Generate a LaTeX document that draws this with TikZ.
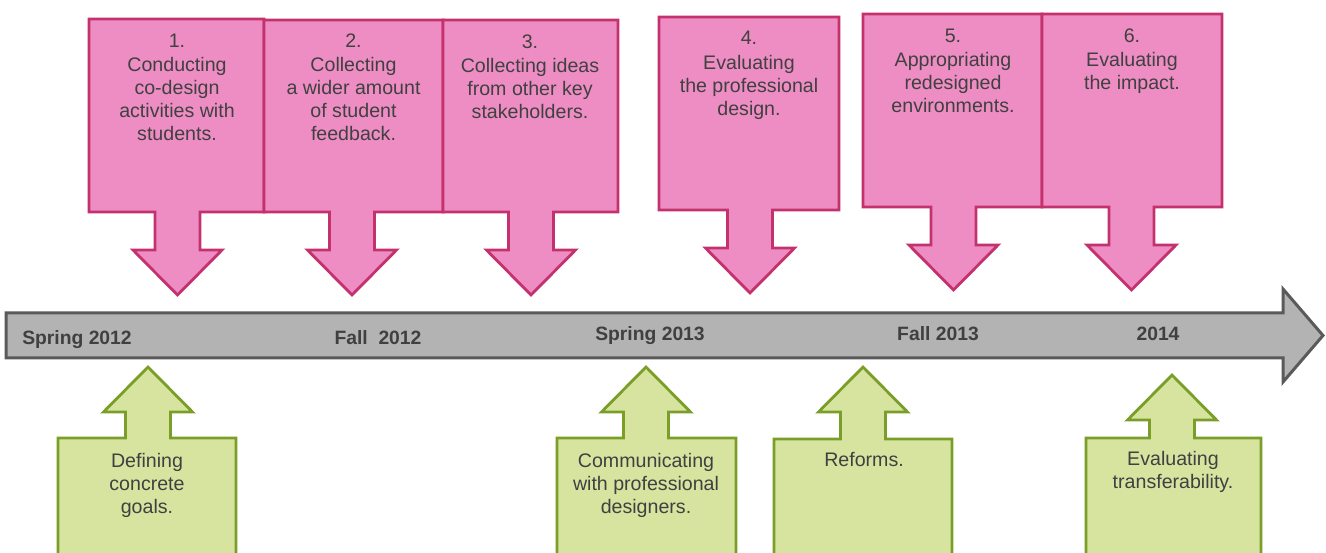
\documentclass[tikz,border=0pt]{standalone}
\usepackage{fontspec}
\setmainfont{Liberation Sans}
\definecolor{pinkfill}{RGB}{238,141,196}
\definecolor{pinkdraw}{RGB}{196,50,110}
\definecolor{greenfill}{RGB}{214,228,160}
\definecolor{greendraw}{RGB}{122,158,40}
\definecolor{barfill}{RGB}{179,179,179}
\definecolor{bardraw}{RGB}{90,90,90}
\definecolor{textgray}{RGB}{64,64,64}
\tikzset{
  pinkbox/.style={fill=pinkfill, draw=pinkdraw, line width=2.8pt, line join=miter},
  greenbox/.style={fill=greenfill, draw=greendraw, line width=2.8pt, line join=miter},
  timebar/.style={fill=barfill, draw=bardraw, line width=3pt, line join=miter, miter limit=10},
  calltext/.style={align=center, inner sep=0pt, anchor=north, text=textgray, font=\fontsize{19.6}{23}\selectfont},
  datelabel/.style={anchor=base, inner sep=0pt, text=textgray, font=\bfseries\fontsize{19.3}{22}\selectfont},
}
% L R T B C W Tip
\newcommand\DownCallout[7]{%
  \draw[pinkbox] (#1,#3) -- (#2,#3) -- (#2,#4) -- ({#5+22.5},#4) -- ({#5+22.5},#6) -- ({#5+44.5},#6) -- (#5,#7) -- ({#5-44.5},#6) -- ({#5-22.5},#6) -- ({#5-22.5},#4) -- (#1,#4) -- cycle;}
% L R T C W Tip
\newcommand\UpCallout[6]{%
  \draw[greenbox] (#1,565) -- (#1,#3) -- ({#4-22.5},#3) -- ({#4-22.5},#5) -- ({#4-44.5},#5) -- (#4,#6) -- ({#4+44.5},#5) -- ({#4+22.5},#5) -- ({#4+22.5},#3) -- (#2,#3) -- (#2,565) -- cycle;}
\begin{document}
\begin{tikzpicture}[x=1pt,y=-1pt]
\clip (0,0) rectangle (1326,553);
\fill[white] (0,0) rectangle (1326,553);
% timeline bar
\draw[timebar] (6,313) -- (1283,313) -- (1283,289) -- (1323,335.5) -- (1283,382) -- (1283,358) -- (6,358) -- cycle;
\node[datelabel] (d1) at (77,344.5) {Spring 2012};
\node[datelabel] (d2) at (378,344.5) {Fall\ \ 2012};
\node[datelabel] (d3) at (650,340.5) {Spring 2013};
\node[datelabel] (d4) at (938,340.5) {Fall 2013};
\node[datelabel] (d5) at (1158,340.5) {2014};
% pink callouts
\DownCallout{89}{264}{19}{212}{177.5}{250}{295}
\DownCallout{264}{443}{20}{212}{352}{250}{295}
\DownCallout{443}{618}{20}{212}{531}{250}{295}
\DownCallout{659}{839}{17}{210}{750}{248}{293}
\DownCallout{863}{1042}{14}{207}{953.5}{245}{290}
\DownCallout{1042}{1222}{14}{207}{1131.5}{245}{290}
\node[calltext] (p1) at (177,33.4) {1.\\[1.2pt]Conducting\\co-design\\activities with\\students.};
\node[calltext] (p2) at (353.5,33.4) {2.\\[1.2pt]Collecting\\a wider amount\\of student\\feedback.};
\node[calltext] (p3) at (530,34.2) {3.\\[1.2pt]Collecting ideas\\from other key\\stakeholders.};
\node[calltext] (p4) at (749,31.2) {4.\\[1.2pt]Evaluating\\the professional\\design.};
\node[calltext] (p5) at (953,28.4) {5.\\[1.2pt]Appropriating\\redesigned\\environments.};
\node[calltext] (p6) at (1132,28.4) {6.\\[1.2pt]Evaluating\\the impact.};
% green callouts
\UpCallout{58}{236}{438}{148}{412}{367}
\UpCallout{557}{736}{438}{646}{412}{367}
\UpCallout{774}{952}{439}{863}{412}{367}
\UpCallout{1086}{1261}{438}{1172}{420}{375}
\node[calltext] (g1) at (147,452.6) {Defining\\concrete\\goals.};
\node[calltext] (g2) at (646,452.6) {Communicating\\with professional\\designers.};
\node[calltext] (g3) at (864,451.8) {Reforms.};
\node[calltext] (g4) at (1173,450.8) {Evaluating\\transferability.};
\end{tikzpicture}
\end{document}
